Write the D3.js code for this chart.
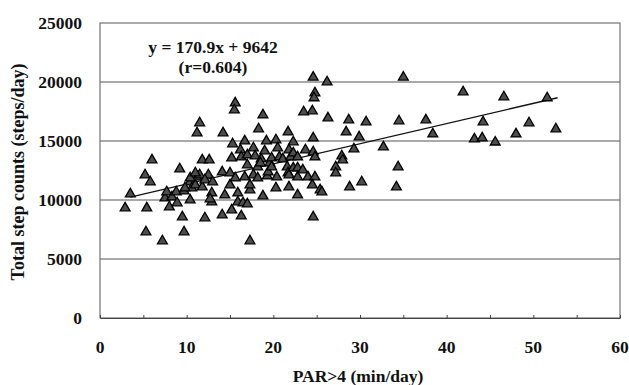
<!DOCTYPE html>
<html>
<head>
<meta charset="utf-8">
<script src="https://cdn.jsdelivr.net/npm/d3@7"></script>
<style>
  body { margin: 0; background: #fff; }
  text { font-family: "Liberation Serif", "Times New Roman", serif; font-weight: bold; fill: #111; }
</style>
</head>
<body>
<div id="chart"></div>
<script>
// PAR>4 minutes per day
const parMinutes = [
  2.9, 3.5, 5.2, 5.8, 6.0, 5.4, 5.3, 7.2, 7.5, 7.7, 8.3, 8.8, 8.0, 8.9, 9.7, 9.2, 9.5, 9.7,
  10.4, 10.4, 10.6, 11.0, 11.2, 11.5, 12.5, 10.4, 9.8, 11.8, 11.2, 11.5, 11.8, 12.6, 12.9, 12.9,
  12.7, 12.1, 11.0, 12.1, 13.0,
  14.1, 14.1, 14.4, 15.0, 15.0, 15.2, 15.3, 14.2, 15.6, 15.5, 15.2, 15.9, 15.9, 16.3, 15.6, 16.2,
  16.3, 16.5, 16.7, 16.7,
  17.0, 17.3, 17.0, 17.0, 17.7, 17.3, 17.3, 17.7, 17.9, 18.2, 18.2, 18.3, 18.8, 18.6, 18.8, 18.5,
  19.0, 19.2, 19.3, 19.4, 19.6, 19.8, 19.8,
  20.3, 20.5, 20.7, 20.4, 20.3, 21.1, 21.7, 21.6, 21.7, 21.8, 21.8, 21.8, 22.0, 22.3, 22.3, 22.3,
  22.8, 22.8, 22.8, 22.8, 23.4, 23.5,
  23.7, 24.5, 24.6, 24.8, 24.7, 26.2, 24.6, 24.6, 24.8, 24.0, 24.8, 24.5, 25.4, 25.6, 24.6, 26.3,
  27.2, 27.2, 27.9, 28.0, 28.4, 28.7, 28.8, 29.3, 29.9, 30.2, 30.7, 32.7, 34.2, 34.4, 34.5, 35.0,
  37.6, 38.4, 41.9, 43.2, 44.1, 44.2, 45.6, 46.6, 48.0, 49.5, 51.6, 52.6
];
// total step counts (steps/day)
const stepCounts = [
  9320, 10510, 12120, 11530, 13390, 9320, 7290, 6530, 10170, 10680, 10250, 10680, 9410, 9750, 10760, 12630, 8560, 7290,
  10000, 11530, 11020, 11270, 11950, 12120, 12120, 11860, 11020, 11100, 15680, 16530, 13390, 13390, 10590, 9830,
  10090, 8480, 12290, 11700, 11530,
  12370, 8730, 10420, 11270, 12290, 13560, 14750, 15680, 18220, 17630, 9150, 10590, 9830, 8640, 11860, 14240,
  13640, 9750, 15000, 11950,
  9660, 6530, 12970, 13810, 14410, 10850, 11270, 12120, 13730, 12800, 11860, 16020, 17200, 13470, 10340, 13140,
  14150, 15000, 12030, 12370, 13140, 13560, 12800,
  15090, 14410, 13640, 11950, 11020, 13470, 15760, 12800, 12290, 14240, 12120, 11100, 13640, 14920, 13980, 12710,
  13640, 12710, 11950, 10420, 12540, 17460,
  14240, 17540, 20400, 19070, 18650, 20000, 15250, 14070, 13640, 11950, 11950, 11270, 10850, 10680, 8560, 16950,
  12800, 12290, 13730, 13390, 15760, 16780, 11100, 14320, 15340, 11530, 16610, 14490, 11100, 12800, 16700, 20400,
  16780, 15590, 19150, 15170, 15250, 16610, 14900, 18730, 15590, 16530, 18650, 16020
];
const points = parMinutes.map((x, i) => ({ x: x, y: stepCounts[i] }));

const xTickLabels = [0, 10, 20, 30, 40, 50, 60];
const xMinorTicks = [0, 5, 10, 15, 20, 25, 30, 35, 40, 45, 50, 55, 60];
const yTickLabels = [0, 5000, 10000, 15000, 20000, 25000];

const fitSlope = 170.9;
const fitIntercept = 9642;
const fitRange = [3.5, 52.8];
const equationLines = ["y = 170.9x + 9642", "(r=0.604)"];

const width = 629, height = 385;
const margin = { top: 23, right: 9, bottom: 67, left: 100 };

const svg = d3.select("#chart")
  .append("svg")
  .attr("width", width)
  .attr("height", height);

const xScale = d3.scaleLinear()
  .domain([0, 60])
  .range([margin.left, width - margin.right]);
const yScale = d3.scaleLinear()
  .domain([0, 25000])
  .range([height - margin.bottom, margin.top]);

// gridlines
svg.append("g")
  .selectAll("line")
  .data(yTickLabels.filter(d => d > 0 && d < 25000))
  .enter()
  .append("line")
  .attr("x1", xScale(0))
  .attr("x2", xScale(60))
  .attr("y1", d => yScale(d))
  .attr("y2", d => yScale(d))
  .attr("stroke", "#555")
  .attr("stroke-width", 1.1);

// plot frame
svg.append("rect")
  .attr("x", xScale(0))
  .attr("y", yScale(25000))
  .attr("width", xScale(60) - xScale(0))
  .attr("height", yScale(0) - yScale(25000))
  .attr("fill", "none")
  .attr("stroke", "#666")
  .attr("stroke-width", 1.1);

// x axis: small ticks pointing inward
const xAxis = d3.axisBottom(xScale)
  .tickValues(xMinorTicks)
  .tickSizeInner(-3)
  .tickSizeOuter(0)
  .tickFormat("");
svg.append("g")
  .attr("transform", `translate(0, ${yScale(0)})`)
  .call(xAxis)
  .call(g => g.selectAll("line, path").attr("stroke", "#444"));

svg.append("g")
  .selectAll("text")
  .data(xTickLabels)
  .enter()
  .append("text")
  .attr("x", d => xScale(d))
  .attr("y", yScale(0) + 35)
  .attr("text-anchor", "middle")
  .attr("font-size", 17.5)
  .text(d => d);

// y axis labels only
const yAxis = d3.axisLeft(yScale)
  .tickValues(yTickLabels)
  .tickFormat(d3.format("d"))
  .tickSize(0)
  .tickPadding(18);
svg.append("g")
  .attr("transform", `translate(${xScale(0)}, 0)`)
  .call(yAxis)
  .call(g => g.select(".domain").remove())
  .call(g => g.selectAll("text")
    .attr("font-size", 17.5)
    .attr("font-family", "'Liberation Serif', serif")
    .attr("font-weight", "bold")
    .attr("fill", "#111"));

// regression line
const fitLine = fitRange.map(x => ({ x: x, y: fitSlope * x + fitIntercept }));
svg.append("path")
  .datum(fitLine)
  .attr("d", d3.line().x(d => xScale(d.x)).y(d => yScale(d.y)))
  .attr("stroke", "#111")
  .attr("stroke-width", 1.3)
  .attr("fill", "none");

// points
const tri = d3.symbol().type(d3.symbolTriangle).size(42);
svg.append("g")
  .selectAll("path")
  .data(points)
  .enter()
  .append("path")
  .attr("d", tri)
  .attr("transform", d => `translate(${xScale(d.x)}, ${yScale(d.y)})`)
  .attr("fill", "#4d4d4d")
  .attr("stroke", "#000")
  .attr("stroke-width", 1.3);

// equation
svg.append("g")
  .selectAll("text")
  .data(equationLines)
  .enter()
  .append("text")
  .attr("x", 213)
  .attr("y", (d, i) => 53 + i * 20)
  .attr("text-anchor", "middle")
  .attr("font-size", 17.5)
  .text(d => d);

// axis titles
svg.append("text")
  .attr("x", 358)
  .attr("y", 382)
  .attr("text-anchor", "middle")
  .attr("font-size", 17.5)
  .text("PAR>4 (min/day)");

svg.append("text")
  .attr("transform", "translate(24, 172) rotate(-90)")
  .attr("text-anchor", "middle")
  .attr("font-size", 18)
  .text("Total step counts (steps/day)");
</script>
</body>
</html>
